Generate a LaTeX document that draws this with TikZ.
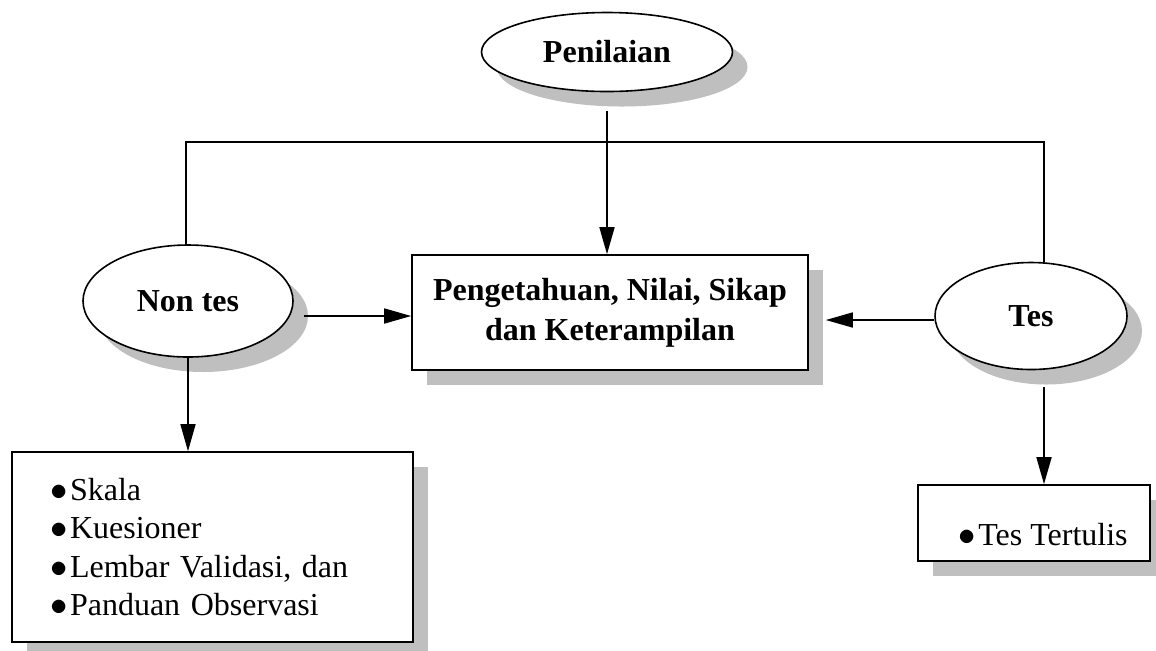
\documentclass[tikz,border=0pt]{standalone}
\usepackage{fontspec}
\setmainfont{Liberation Serif}
\usetikzlibrary{shapes.geometric,shadows,arrows.meta}

\newcommand{\itm}[1]{\makebox[10pt][l]{$\bullet$}#1}

\begin{document}
\begin{tikzpicture}[x=0.5pt,y=-0.5pt,line width=0.8pt,
	shd/.style = {general shadow={fill=black!25, shadow xshift=7.5pt, shadow yshift=-7.5pt}},
	oval/.style = {draw, ellipse, fill=white, inner sep=0pt, shd, font=\bfseries\fontsize{16}{20}\selectfont},
	box/.style = {draw, rectangle, fill=white, inner sep=0pt, shd},
	arr/.style = {-{Triangle[length=13.5pt,width=7.5pt]}}]
	\useasboundingbox (0,0) rectangle (1156,650);
	\node[oval, minimum width=125.5pt, minimum height=39.5pt] (pen) at (607,52) {Penilaian};
	\node[oval, minimum width=105pt, minimum height=56pt] (nontes) at (188,301) {Non tes};
	\node[oval, minimum width=96pt, minimum height=53.5pt] (tes) at (1031,316) {Tes};
	\node[box, minimum width=198pt, minimum height=57.5pt, align=center,
		font=\bfseries\fontsize{16}{20}\selectfont] (main) at (610,312.5)
		{Pengetahuan, Nilai, Sikap\\dan Keterampilan};
	\node[box, minimum height=95pt, inner xsep=19pt, text width=162.5pt, align=left,
		font=\fontsize{16}{19.25}\selectfont] (list) at (212.5,547)
		{\itm{Skala}\\\itm{Kuesioner}\\\itm{Lembar Validasi, dan}\\\itm{Panduan Observasi}};
	\node[box, minimum width=116pt, minimum height=38pt, inner xsep=0pt,
		text height=22pt, text depth=0pt, font=\fontsize{16}{19.25}\selectfont] (tt) at (1034,523)
		{\hspace{9pt}\itm{Tes Tertulis}};
	% garis atas
	\coordinate (tl) at (186,142);
	\coordinate (tr) at (1044,142);
	\draw (tl |- nontes.north) -- (tl) -- (tr) -- (tr |- tes.north);
	\draw[arr] ([yshift=-9.5pt]pen.south) -- (pen.south |- main.north);
	% panah ke kotak tengah
	\coordinate (a1) at ([shift={(10,15)}]nontes.east);
	\draw[arr] (a1) -- (a1 -| main.west);
	\coordinate (a2) at ([yshift=-2pt]tes.west);
	\draw[arr] (a2) -- ([xshift=8.5pt]a2 -| main.east);
	% panah ke bawah
	\draw[arr] (nontes.south) -- (nontes.south |- list.north);
	\coordinate (a3) at (tr |- tes.south);
	\draw[arr] ([yshift=-8.5pt]a3) -- (a3 |- tt.north);
\end{tikzpicture}
\end{document}
